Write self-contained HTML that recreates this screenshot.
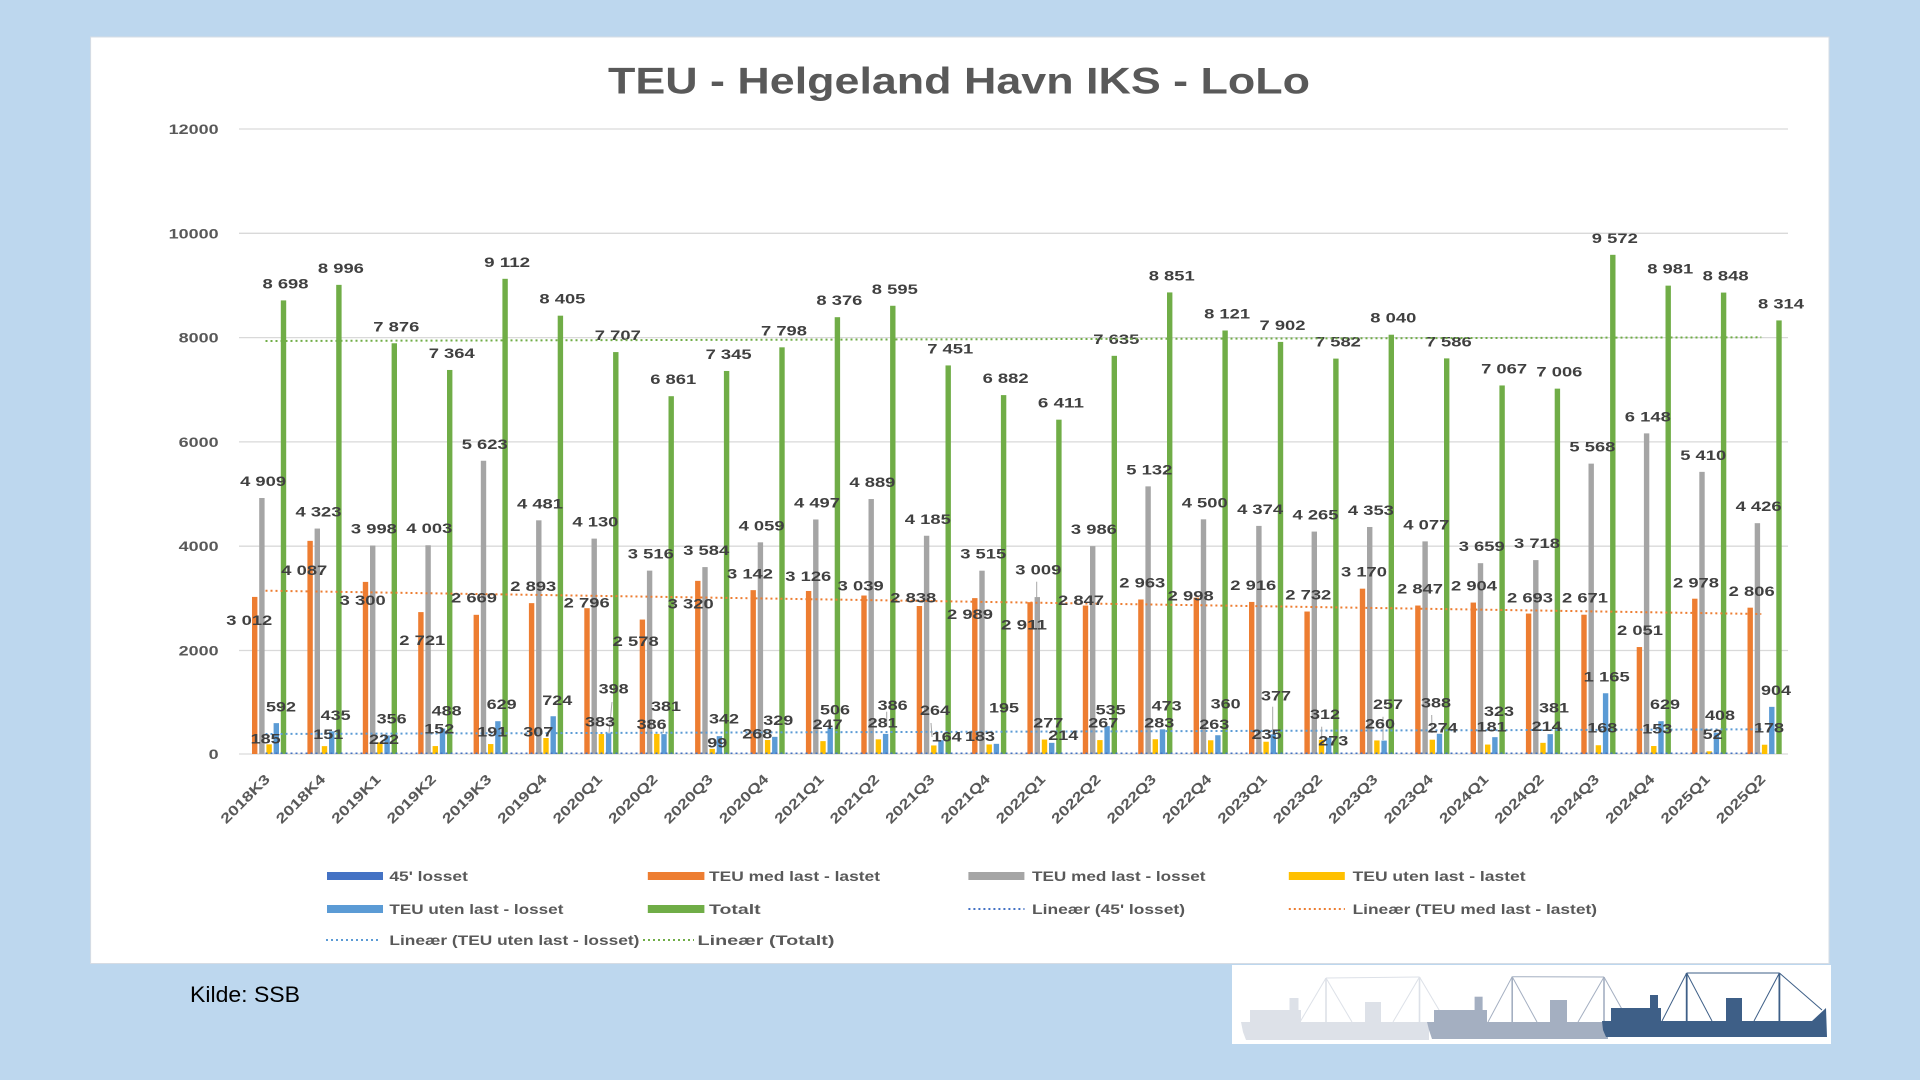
<!DOCTYPE html>
<html><head><meta charset="utf-8"><style>
html,body{margin:0;padding:0;background:#BDD7EE;}
svg{display:block;}
text{font-family:"Liberation Sans",sans-serif;}
.o{fill:#ED7D31}.s{fill:#A5A5A5}.y{fill:#FFC000}.b{fill:#5B9BD5}.g{fill:#70AD47}.d{fill:#4472C4}
.l{font-size:14px;font-weight:bold;fill:#404040;text-anchor:middle;}
.ax{font-size:14px;font-weight:bold;fill:#595959;text-anchor:end;}
.cat{font-size:14px;font-weight:bold;fill:#595959;text-anchor:end;}
.lg{font-size:14px;font-weight:bold;fill:#595959;}
.grid{stroke:#D9D9D9;stroke-width:1.3;}
.ld{stroke:#A6A6A6;stroke-width:1;}
</style></head><body>
<svg width="1920" height="1080" viewBox="0 0 1920 1080" xmlns="http://www.w3.org/2000/svg">
<rect x="0" y="0" width="1920" height="1080" fill="#BDD7EE"/>
<rect x="90.6" y="37" width="1738.4" height="926.5" fill="#FFFFFF" stroke="#D6DCE4" stroke-width="1"/>

<text x="608" y="93.7" font-size="37" font-weight="bold" fill="#595959" textLength="702" lengthAdjust="spacingAndGlyphs">TEU - Helgeland Havn IKS - LoLo</text>

<!-- gridlines -->
<line class="grid" x1="239" y1="129" x2="1788" y2="129"/>
<line class="grid" x1="239" y1="233.3" x2="1788" y2="233.3"/>
<line class="grid" x1="239" y1="337.6" x2="1788" y2="337.6"/>
<line class="grid" x1="239" y1="441.9" x2="1788" y2="441.9"/>
<line class="grid" x1="239" y1="546.2" x2="1788" y2="546.2"/>
<line class="grid" x1="239" y1="650.5" x2="1788" y2="650.5"/>
<line class="grid" x1="239" y1="754" x2="1788" y2="754"/>

<!-- y axis labels -->
<g class="ax" lengthAdjust="spacingAndGlyphs">
<text x="218.6" y="134" textLength="50" lengthAdjust="spacingAndGlyphs">12000</text>
<text x="218.6" y="238.3" textLength="50" lengthAdjust="spacingAndGlyphs">10000</text>
<text x="218.6" y="342.6" textLength="40" lengthAdjust="spacingAndGlyphs">8000</text>
<text x="218.6" y="446.9" textLength="40" lengthAdjust="spacingAndGlyphs">6000</text>
<text x="218.6" y="551.2" textLength="40" lengthAdjust="spacingAndGlyphs">4000</text>
<text x="218.6" y="655.5" textLength="40" lengthAdjust="spacingAndGlyphs">2000</text>
<text x="218.6" y="759" textLength="10" lengthAdjust="spacingAndGlyphs">0</text>
</g>

<!-- bars -->
<g>
<g transform="translate(283.5,0)"><rect class="o" x="-31.5" y="596.92" width="5.4" height="157.08"/><rect class="s" x="-24.3" y="498" width="5.4" height="256"/><rect class="y" x="-17.1" y="744.35" width="5.4" height="9.65"/><rect class="b" x="-9.9" y="723.13" width="5.4" height="30.87"/><rect class="g" x="-2.7" y="300.4" width="5.4" height="453.6"/>
<text class="l" x="2" y="288.4" textLength="46" lengthAdjust="spacingAndGlyphs">8 698</text><text class="l" x="-20.4" y="486" textLength="46" lengthAdjust="spacingAndGlyphs">4 909</text></g>
<g transform="translate(338.9,0)"><rect class="o" x="-31.5" y="540.86" width="5.4" height="213.14"/><rect class="s" x="-24.3" y="528.56" width="5.4" height="225.44"/><rect class="y" x="-17.1" y="746.13" width="5.4" height="7.87"/><rect class="b" x="-9.9" y="731.31" width="5.4" height="22.69"/><rect class="g" x="-2.7" y="284.86" width="5.4" height="469.14"/>
<text class="l" x="2" y="272.9" textLength="46" lengthAdjust="spacingAndGlyphs">8 996</text><text class="l" x="-20.4" y="516.6" textLength="46" lengthAdjust="spacingAndGlyphs">4 323</text></g>
<g transform="translate(394.3,0)"><rect class="o" x="-31.5" y="581.9" width="5.4" height="172.1"/><rect class="s" x="-24.3" y="545.5" width="5.4" height="208.5"/><rect class="y" x="-17.1" y="742.42" width="5.4" height="11.58"/><rect class="b" x="-9.9" y="735.43" width="5.4" height="18.57"/><rect class="g" x="-2.7" y="343.27" width="5.4" height="410.73"/>
<text class="l" x="2" y="331.3" textLength="46" lengthAdjust="spacingAndGlyphs">7 876</text><text class="l" x="-20.4" y="533.5" textLength="46" lengthAdjust="spacingAndGlyphs">3 998</text></g>
<g transform="translate(449.7,0)"><rect class="o" x="-31.5" y="612.1" width="5.4" height="141.9"/><rect class="s" x="-24.3" y="545.24" width="5.4" height="208.76"/><rect class="y" x="-17.1" y="746.07" width="5.4" height="7.93"/><rect class="b" x="-9.9" y="728.55" width="5.4" height="25.45"/><rect class="g" x="-2.7" y="369.97" width="5.4" height="384.03"/>
<text class="l" x="2" y="358" textLength="46" lengthAdjust="spacingAndGlyphs">7 364</text><text class="l" x="-20.4" y="533.2" textLength="46" lengthAdjust="spacingAndGlyphs">4 003</text></g>
<g transform="translate(505.1,0)"><rect class="o" x="-31.5" y="614.81" width="5.4" height="139.19"/><rect class="s" x="-24.3" y="460.76" width="5.4" height="293.24"/><rect class="y" x="-17.1" y="744.04" width="5.4" height="9.96"/><rect class="b" x="-9.9" y="721.2" width="5.4" height="32.8"/><rect class="g" x="-2.7" y="278.81" width="5.4" height="475.19"/>
<text class="l" x="2" y="266.8" textLength="46" lengthAdjust="spacingAndGlyphs">9 112</text><text class="l" x="-20.4" y="448.8" textLength="46" lengthAdjust="spacingAndGlyphs">5 623</text></g>
<g transform="translate(560.4,0)"><rect class="o" x="-31.5" y="603.13" width="5.4" height="150.87"/><rect class="s" x="-24.3" y="520.32" width="5.4" height="233.68"/><rect class="y" x="-17.1" y="737.99" width="5.4" height="16.01"/><rect class="b" x="-9.9" y="716.24" width="5.4" height="37.76"/><rect class="g" x="-2.7" y="315.68" width="5.4" height="438.32"/>
<text class="l" x="2" y="303.7" textLength="46" lengthAdjust="spacingAndGlyphs">8 405</text><text class="l" x="-20.4" y="508.3" textLength="46" lengthAdjust="spacingAndGlyphs">4 481</text></g>
<g transform="translate(615.8,0)"><rect class="o" x="-31.5" y="608.19" width="5.4" height="145.81"/><rect class="s" x="-24.3" y="538.62" width="5.4" height="215.38"/><rect class="y" x="-17.1" y="734.03" width="5.4" height="19.97"/><rect class="b" x="-9.9" y="733.24" width="5.4" height="20.76"/><rect class="g" x="-2.7" y="352.08" width="5.4" height="401.92"/>
<text class="l" x="2" y="340.1" textLength="46" lengthAdjust="spacingAndGlyphs">7 707</text><text class="l" x="-20.4" y="526.6" textLength="46" lengthAdjust="spacingAndGlyphs">4 130</text></g>
<g transform="translate(671.2,0)"><rect class="o" x="-31.5" y="619.56" width="5.4" height="134.44"/><rect class="s" x="-24.3" y="570.64" width="5.4" height="183.36"/><rect class="y" x="-17.1" y="733.87" width="5.4" height="20.13"/><rect class="b" x="-9.9" y="734.13" width="5.4" height="19.87"/><rect class="g" x="-2.7" y="396.2" width="5.4" height="357.8"/>
<text class="l" x="2" y="384.2" textLength="46" lengthAdjust="spacingAndGlyphs">6 861</text><text class="l" x="-20.4" y="558.6" textLength="46" lengthAdjust="spacingAndGlyphs">3 516</text></g>
<g transform="translate(726.6,0)"><rect class="o" x="-31.5" y="580.86" width="5.4" height="173.14"/><rect class="s" x="-24.3" y="567.09" width="5.4" height="186.91"/><rect class="y" x="-17.1" y="748.84" width="5.4" height="5.16"/><rect class="b" x="-9.9" y="736.16" width="5.4" height="17.84"/><rect class="g" x="-2.7" y="370.96" width="5.4" height="383.04"/>
<text class="l" x="2" y="359" textLength="46" lengthAdjust="spacingAndGlyphs">7 345</text><text class="l" x="-20.4" y="555.1" textLength="46" lengthAdjust="spacingAndGlyphs">3 584</text></g>
<g transform="translate(782,0)"><rect class="o" x="-31.5" y="590.14" width="5.4" height="163.86"/><rect class="s" x="-24.3" y="542.32" width="5.4" height="211.68"/><rect class="y" x="-17.1" y="740.02" width="5.4" height="13.98"/><rect class="b" x="-9.9" y="736.84" width="5.4" height="17.16"/><rect class="g" x="-2.7" y="347.33" width="5.4" height="406.67"/>
<text class="l" x="2" y="335.3" textLength="46" lengthAdjust="spacingAndGlyphs">7 798</text><text class="l" x="-20.4" y="530.3" textLength="46" lengthAdjust="spacingAndGlyphs">4 059</text></g>
<g transform="translate(837.4,0)"><rect class="o" x="-31.5" y="590.98" width="5.4" height="163.02"/><rect class="s" x="-24.3" y="519.48" width="5.4" height="234.52"/><rect class="y" x="-17.1" y="741.12" width="5.4" height="12.88"/><rect class="b" x="-9.9" y="727.61" width="5.4" height="26.39"/><rect class="g" x="-2.7" y="317.19" width="5.4" height="436.81"/>
<text class="l" x="2" y="305.2" textLength="46" lengthAdjust="spacingAndGlyphs">8 376</text><text class="l" x="-20.4" y="507.5" textLength="46" lengthAdjust="spacingAndGlyphs">4 497</text></g>
<g transform="translate(892.8,0)"><rect class="o" x="-31.5" y="595.52" width="5.4" height="158.48"/><rect class="s" x="-24.3" y="499.04" width="5.4" height="254.96"/><rect class="y" x="-17.1" y="739.35" width="5.4" height="14.65"/><rect class="b" x="-9.9" y="733.87" width="5.4" height="20.13"/><rect class="g" x="-2.7" y="305.77" width="5.4" height="448.23"/>
<text class="l" x="2" y="293.8" textLength="46" lengthAdjust="spacingAndGlyphs">8 595</text><text class="l" x="-20.4" y="487" textLength="46" lengthAdjust="spacingAndGlyphs">4 889</text></g>
<g transform="translate(948.2,0)"><rect class="o" x="-31.5" y="606" width="5.4" height="148"/><rect class="s" x="-24.3" y="535.75" width="5.4" height="218.25"/><rect class="y" x="-17.1" y="745.45" width="5.4" height="8.55"/><rect class="b" x="-9.9" y="740.23" width="5.4" height="13.77"/><rect class="g" x="-2.7" y="365.43" width="5.4" height="388.57"/>
<text class="l" x="2" y="353.4" textLength="46" lengthAdjust="spacingAndGlyphs">7 451</text><text class="l" x="-20.4" y="523.8" textLength="46" lengthAdjust="spacingAndGlyphs">4 185</text></g>
<g transform="translate(1003.6,0)"><rect class="o" x="-31.5" y="598.12" width="5.4" height="155.88"/><rect class="s" x="-24.3" y="570.69" width="5.4" height="183.31"/><rect class="y" x="-17.1" y="744.46" width="5.4" height="9.54"/><rect class="b" x="-9.9" y="743.83" width="5.4" height="10.17"/><rect class="g" x="-2.7" y="395.1" width="5.4" height="358.9"/>
<text class="l" x="2" y="383.1" textLength="46" lengthAdjust="spacingAndGlyphs">6 882</text><text class="l" x="-20.4" y="558.7" textLength="46" lengthAdjust="spacingAndGlyphs">3 515</text></g>
<g transform="translate(1058.9,0)"><rect class="o" x="-31.5" y="602.19" width="5.4" height="151.81"/><rect class="s" x="-24.3" y="597.08" width="5.4" height="156.92"/><rect class="y" x="-17.1" y="739.55" width="5.4" height="14.45"/><rect class="b" x="-9.9" y="742.84" width="5.4" height="11.16"/><rect class="g" x="-2.7" y="419.67" width="5.4" height="334.33"/>
<text class="l" x="2" y="407.7" textLength="46" lengthAdjust="spacingAndGlyphs">6 411</text><text class="l" x="-20.6" y="574.3" textLength="46" lengthAdjust="spacingAndGlyphs">3 009</text></g>
<g transform="translate(1114.3,0)"><rect class="o" x="-31.5" y="605.53" width="5.4" height="148.47"/><rect class="s" x="-24.3" y="546.13" width="5.4" height="207.87"/><rect class="y" x="-17.1" y="740.08" width="5.4" height="13.92"/><rect class="b" x="-9.9" y="726.1" width="5.4" height="27.9"/><rect class="g" x="-2.7" y="355.83" width="5.4" height="398.17"/>
<text class="l" x="2" y="343.8" textLength="46" lengthAdjust="spacingAndGlyphs">7 635</text><text class="l" x="-20.4" y="534.1" textLength="46" lengthAdjust="spacingAndGlyphs">3 986</text></g>
<g transform="translate(1169.7,0)"><rect class="o" x="-31.5" y="599.48" width="5.4" height="154.52"/><rect class="s" x="-24.3" y="486.37" width="5.4" height="267.63"/><rect class="y" x="-17.1" y="739.24" width="5.4" height="14.76"/><rect class="b" x="-9.9" y="729.33" width="5.4" height="24.67"/><rect class="g" x="-2.7" y="292.42" width="5.4" height="461.58"/>
<text class="l" x="2" y="280.4" textLength="46" lengthAdjust="spacingAndGlyphs">8 851</text><text class="l" x="-20.4" y="474.4" textLength="46" lengthAdjust="spacingAndGlyphs">5 132</text></g>
<g transform="translate(1225.1,0)"><rect class="o" x="-31.5" y="597.65" width="5.4" height="156.35"/><rect class="s" x="-24.3" y="519.32" width="5.4" height="234.68"/><rect class="y" x="-17.1" y="740.28" width="5.4" height="13.72"/><rect class="b" x="-9.9" y="735.23" width="5.4" height="18.77"/><rect class="g" x="-2.7" y="330.49" width="5.4" height="423.51"/>
<text class="l" x="2" y="318.5" textLength="46" lengthAdjust="spacingAndGlyphs">8 121</text><text class="l" x="-20.4" y="507.3" textLength="46" lengthAdjust="spacingAndGlyphs">4 500</text></g>
<g transform="translate(1280.5,0)"><rect class="o" x="-31.5" y="601.93" width="5.4" height="152.07"/><rect class="s" x="-24.3" y="525.9" width="5.4" height="228.1"/><rect class="y" x="-17.1" y="741.74" width="5.4" height="12.26"/><rect class="b" x="-9.9" y="734.34" width="5.4" height="19.66"/><rect class="g" x="-2.7" y="341.91" width="5.4" height="412.09"/>
<text class="l" x="2" y="329.9" textLength="46" lengthAdjust="spacingAndGlyphs">7 902</text><text class="l" x="-20.4" y="513.9" textLength="46" lengthAdjust="spacingAndGlyphs">4 374</text></g>
<g transform="translate(1335.9,0)"><rect class="o" x="-31.5" y="611.53" width="5.4" height="142.47"/><rect class="s" x="-24.3" y="531.58" width="5.4" height="222.42"/><rect class="y" x="-17.1" y="739.76" width="5.4" height="14.24"/><rect class="b" x="-9.9" y="737.73" width="5.4" height="16.27"/><rect class="g" x="-2.7" y="358.6" width="5.4" height="395.4"/>
<text class="l" x="2" y="346.6" textLength="46" lengthAdjust="spacingAndGlyphs">7 582</text><text class="l" x="-20.4" y="519.6" textLength="46" lengthAdjust="spacingAndGlyphs">4 265</text></g>
<g transform="translate(1391.3,0)"><rect class="o" x="-31.5" y="588.68" width="5.4" height="165.32"/><rect class="s" x="-24.3" y="526.99" width="5.4" height="227.01"/><rect class="y" x="-17.1" y="740.44" width="5.4" height="13.56"/><rect class="b" x="-9.9" y="740.6" width="5.4" height="13.4"/><rect class="g" x="-2.7" y="334.71" width="5.4" height="419.29"/>
<text class="l" x="2" y="322.7" textLength="46" lengthAdjust="spacingAndGlyphs">8 040</text><text class="l" x="-20.4" y="515" textLength="46" lengthAdjust="spacingAndGlyphs">4 353</text></g>
<g transform="translate(1446.7,0)"><rect class="o" x="-31.5" y="605.53" width="5.4" height="148.47"/><rect class="s" x="-24.3" y="541.38" width="5.4" height="212.62"/><rect class="y" x="-17.1" y="739.71" width="5.4" height="14.29"/><rect class="b" x="-9.9" y="733.77" width="5.4" height="20.23"/><rect class="g" x="-2.7" y="358.39" width="5.4" height="395.61"/>
<text class="l" x="2" y="346.4" textLength="46" lengthAdjust="spacingAndGlyphs">7 586</text><text class="l" x="-20.4" y="529.4" textLength="46" lengthAdjust="spacingAndGlyphs">4 077</text></g>
<g transform="translate(1502.1,0)"><rect class="o" x="-31.5" y="602.56" width="5.4" height="151.44"/><rect class="s" x="-24.3" y="563.18" width="5.4" height="190.82"/><rect class="y" x="-17.1" y="744.56" width="5.4" height="9.44"/><rect class="b" x="-9.9" y="737.16" width="5.4" height="16.84"/><rect class="g" x="-2.7" y="385.46" width="5.4" height="368.54"/>
<text class="l" x="2" y="373.5" textLength="46" lengthAdjust="spacingAndGlyphs">7 067</text><text class="l" x="-20.4" y="551.2" textLength="46" lengthAdjust="spacingAndGlyphs">3 659</text></g>
<g transform="translate(1557.4,0)"><rect class="o" x="-31.5" y="613.56" width="5.4" height="140.44"/><rect class="s" x="-24.3" y="560.11" width="5.4" height="193.89"/><rect class="y" x="-17.1" y="742.84" width="5.4" height="11.16"/><rect class="b" x="-9.9" y="734.13" width="5.4" height="19.87"/><rect class="g" x="-2.7" y="388.64" width="5.4" height="365.36"/>
<text class="l" x="2" y="376.6" textLength="46" lengthAdjust="spacingAndGlyphs">7 006</text><text class="l" x="-20.4" y="548.1" textLength="46" lengthAdjust="spacingAndGlyphs">3 718</text></g>
<g transform="translate(1612.8,0)"><rect class="o" x="-31.5" y="614.71" width="5.4" height="139.29"/><rect class="s" x="-24.3" y="463.63" width="5.4" height="290.37"/><rect class="y" x="-17.1" y="745.24" width="5.4" height="8.76"/><rect class="b" x="-9.9" y="693.25" width="5.4" height="60.75"/><rect class="g" x="-2.7" y="254.82" width="5.4" height="499.18"/>
<text class="l" x="2" y="242.8" textLength="46" lengthAdjust="spacingAndGlyphs">9 572</text><text class="l" x="-20.4" y="451.6" textLength="46" lengthAdjust="spacingAndGlyphs">5 568</text></g>
<g transform="translate(1668.2,0)"><rect class="o" x="-31.5" y="647.04" width="5.4" height="106.96"/><rect class="s" x="-24.3" y="433.38" width="5.4" height="320.62"/><rect class="y" x="-17.1" y="746.02" width="5.4" height="7.98"/><rect class="b" x="-9.9" y="721.2" width="5.4" height="32.8"/><rect class="g" x="-2.7" y="285.64" width="5.4" height="468.36"/>
<text class="l" x="2" y="273.6" textLength="46" lengthAdjust="spacingAndGlyphs">8 981</text><text class="l" x="-20.4" y="421.4" textLength="46" lengthAdjust="spacingAndGlyphs">6 148</text></g>
<g transform="translate(1723.6,0)"><rect class="o" x="-31.5" y="598.7" width="5.4" height="155.3"/><rect class="s" x="-24.3" y="471.87" width="5.4" height="282.13"/><rect class="y" x="-17.1" y="751.29" width="5.4" height="2.71"/><rect class="b" x="-9.9" y="732.72" width="5.4" height="21.28"/><rect class="g" x="-2.7" y="292.58" width="5.4" height="461.42"/>
<text class="l" x="2" y="280.6" textLength="46" lengthAdjust="spacingAndGlyphs">8 848</text><text class="l" x="-20.4" y="459.9" textLength="46" lengthAdjust="spacingAndGlyphs">5 410</text></g>
<g transform="translate(1779,0)"><rect class="o" x="-31.5" y="607.67" width="5.4" height="146.33"/><rect class="s" x="-24.3" y="523.18" width="5.4" height="230.82"/><rect class="y" x="-17.1" y="744.72" width="5.4" height="9.28"/><rect class="b" x="-9.9" y="706.86" width="5.4" height="47.14"/><rect class="g" x="-2.7" y="320.42" width="5.4" height="433.58"/>
<text class="l" x="2" y="308.4" textLength="46" lengthAdjust="spacingAndGlyphs">8 314</text><text class="l" x="-20.4" y="511.2" textLength="46" lengthAdjust="spacingAndGlyphs">4 426</text></g>
</g>

<!-- trend lines -->
<g fill="none" stroke-width="2" stroke-dasharray="2 3">
<line x1="265.5" y1="753.3" x2="1761.3" y2="753.3" stroke="#4472C4" stroke-width="1.5"/>
<line x1="265.5" y1="590.7" x2="1761.3" y2="614" stroke="#ED7D31"/>
<line x1="265.5" y1="734" x2="1761.3" y2="729.3" stroke="#5B9BD5"/>
<line x1="265.5" y1="341" x2="1761.3" y2="337.3" stroke="#70AD47"/>
</g>

<!-- leader lines -->
<g class="ld">
<line x1="612" y1="702" x2="609" y2="733"/>
<line x1="1036.7" y1="581.7" x2="1036.7" y2="598"/>
<line x1="1272.7" y1="706.7" x2="1272.7" y2="730"/>
<line x1="1321.7" y1="726.7" x2="1321.7" y2="740"/>
<line x1="1383" y1="716.7" x2="1383" y2="740"/>
<line x1="931" y1="723" x2="932" y2="737"/>
<line x1="1431.7" y1="715" x2="1432" y2="733"/>
<line x1="663.3" y1="725" x2="663.3" y2="733"/>
<line x1="886.7" y1="711.7" x2="886.7" y2="726.7"/>
</g>

<!-- orange labels -->
<g>
<text class="l" x="249.3" y="625" textLength="46" lengthAdjust="spacingAndGlyphs">3 012</text>
<text class="l" x="304.3" y="575" textLength="46" lengthAdjust="spacingAndGlyphs">4 087</text>
<text class="l" x="362.7" y="605" textLength="46" lengthAdjust="spacingAndGlyphs">3 300</text>
<text class="l" x="422.3" y="645" textLength="46" lengthAdjust="spacingAndGlyphs">2 721</text>
<text class="l" x="474" y="602.7" textLength="46" lengthAdjust="spacingAndGlyphs">2 669</text>
<text class="l" x="533.3" y="591" textLength="46" lengthAdjust="spacingAndGlyphs">2 893</text>
<text class="l" x="586.7" y="607.3" textLength="46" lengthAdjust="spacingAndGlyphs">2 796</text>
<text class="l" x="635.7" y="646" textLength="46" lengthAdjust="spacingAndGlyphs">2 578</text>
<text class="l" x="690.7" y="608.3" textLength="46" lengthAdjust="spacingAndGlyphs">3 320</text>
<text class="l" x="750" y="578.3" textLength="46" lengthAdjust="spacingAndGlyphs">3 142</text>
<text class="l" x="808.3" y="581" textLength="46" lengthAdjust="spacingAndGlyphs">3 126</text>
<text class="l" x="860.7" y="590.7" textLength="46" lengthAdjust="spacingAndGlyphs">3 039</text>
<text class="l" x="913.3" y="602.3" textLength="46" lengthAdjust="spacingAndGlyphs">2 838</text>
<text class="l" x="970" y="619" textLength="46" lengthAdjust="spacingAndGlyphs">2 989</text>
<text class="l" x="1024" y="629.3" textLength="46" lengthAdjust="spacingAndGlyphs">2 911</text>
<text class="l" x="1081" y="605" textLength="46" lengthAdjust="spacingAndGlyphs">2 847</text>
<text class="l" x="1142.3" y="587.7" textLength="46" lengthAdjust="spacingAndGlyphs">2 963</text>
<text class="l" x="1190.7" y="600.7" textLength="46" lengthAdjust="spacingAndGlyphs">2 998</text>
<text class="l" x="1253.3" y="590" textLength="46" lengthAdjust="spacingAndGlyphs">2 916</text>
<text class="l" x="1308.3" y="599.3" textLength="46" lengthAdjust="spacingAndGlyphs">2 732</text>
<text class="l" x="1364" y="576.7" textLength="46" lengthAdjust="spacingAndGlyphs">3 170</text>
<text class="l" x="1420" y="593.3" textLength="46" lengthAdjust="spacingAndGlyphs">2 847</text>
<text class="l" x="1474" y="590.7" textLength="46" lengthAdjust="spacingAndGlyphs">2 904</text>
<text class="l" x="1530" y="602.3" textLength="46" lengthAdjust="spacingAndGlyphs">2 693</text>
<text class="l" x="1585" y="602.3" textLength="46" lengthAdjust="spacingAndGlyphs">2 671</text>
<text class="l" x="1640" y="635" textLength="46" lengthAdjust="spacingAndGlyphs">2 051</text>
<text class="l" x="1696" y="587.3" textLength="46" lengthAdjust="spacingAndGlyphs">2 978</text>
<text class="l" x="1751.7" y="596" textLength="46" lengthAdjust="spacingAndGlyphs">2 806</text>
</g>

<!-- yellow labels -->
<g>
<text class="l" x="265.7" y="743.3" textLength="30" lengthAdjust="spacingAndGlyphs">185</text>
<text class="l" x="328.3" y="739" textLength="30" lengthAdjust="spacingAndGlyphs">151</text>
<text class="l" x="384" y="744" textLength="30" lengthAdjust="spacingAndGlyphs">222</text>
<text class="l" x="439.3" y="733.3" textLength="30" lengthAdjust="spacingAndGlyphs">152</text>
<text class="l" x="492.3" y="736.7" textLength="30" lengthAdjust="spacingAndGlyphs">191</text>
<text class="l" x="538.3" y="736.7" textLength="30" lengthAdjust="spacingAndGlyphs">307</text>
<text class="l" x="600" y="726.7" textLength="30" lengthAdjust="spacingAndGlyphs">383</text>
<text class="l" x="651.7" y="729" textLength="30" lengthAdjust="spacingAndGlyphs">386</text>
<text class="l" x="717.3" y="747.7" textLength="20" lengthAdjust="spacingAndGlyphs">99</text>
<text class="l" x="757.3" y="738.3" textLength="30" lengthAdjust="spacingAndGlyphs">268</text>
<text class="l" x="827.7" y="729" textLength="30" lengthAdjust="spacingAndGlyphs">247</text>
<text class="l" x="882.7" y="727.7" textLength="30" lengthAdjust="spacingAndGlyphs">281</text>
<text class="l" x="946.7" y="741.7" textLength="30" lengthAdjust="spacingAndGlyphs">164</text>
<text class="l" x="980" y="741" textLength="30" lengthAdjust="spacingAndGlyphs">183</text>
<text class="l" x="1048.3" y="727.7" textLength="30" lengthAdjust="spacingAndGlyphs">277</text>
<text class="l" x="1103.3" y="727.7" textLength="30" lengthAdjust="spacingAndGlyphs">267</text>
<text class="l" x="1159.3" y="727.3" textLength="30" lengthAdjust="spacingAndGlyphs">283</text>
<text class="l" x="1214.3" y="729" textLength="30" lengthAdjust="spacingAndGlyphs">263</text>
<text class="l" x="1266.7" y="739" textLength="30" lengthAdjust="spacingAndGlyphs">235</text>
<text class="l" x="1333.3" y="745.7" textLength="30" lengthAdjust="spacingAndGlyphs">273</text>
<text class="l" x="1380" y="728.3" textLength="30" lengthAdjust="spacingAndGlyphs">260</text>
<text class="l" x="1442.7" y="732.3" textLength="30" lengthAdjust="spacingAndGlyphs">274</text>
<text class="l" x="1491.7" y="731.7" textLength="30" lengthAdjust="spacingAndGlyphs">181</text>
<text class="l" x="1546.7" y="731" textLength="30" lengthAdjust="spacingAndGlyphs">214</text>
<text class="l" x="1602.3" y="732.3" textLength="30" lengthAdjust="spacingAndGlyphs">168</text>
<text class="l" x="1657.3" y="733.3" textLength="30" lengthAdjust="spacingAndGlyphs">153</text>
<text class="l" x="1712.7" y="739" textLength="20" lengthAdjust="spacingAndGlyphs">52</text>
<text class="l" x="1769" y="732.3" textLength="30" lengthAdjust="spacingAndGlyphs">178</text>
</g>

<!-- light blue labels -->
<g>
<text class="l" x="281" y="711.7" textLength="30" lengthAdjust="spacingAndGlyphs">592</text>
<text class="l" x="335.7" y="720" textLength="30" lengthAdjust="spacingAndGlyphs">435</text>
<text class="l" x="391.7" y="723.3" textLength="30" lengthAdjust="spacingAndGlyphs">356</text>
<text class="l" x="446.7" y="715.7" textLength="30" lengthAdjust="spacingAndGlyphs">488</text>
<text class="l" x="501.7" y="709" textLength="30" lengthAdjust="spacingAndGlyphs">629</text>
<text class="l" x="557.3" y="705" textLength="30" lengthAdjust="spacingAndGlyphs">724</text>
<text class="l" x="613.7" y="693.3" textLength="30" lengthAdjust="spacingAndGlyphs">398</text>
<text class="l" x="666" y="711" textLength="30" lengthAdjust="spacingAndGlyphs">381</text>
<text class="l" x="724" y="723.3" textLength="30" lengthAdjust="spacingAndGlyphs">342</text>
<text class="l" x="778.3" y="725" textLength="30" lengthAdjust="spacingAndGlyphs">329</text>
<text class="l" x="835" y="714.3" textLength="30" lengthAdjust="spacingAndGlyphs">506</text>
<text class="l" x="892.7" y="710" textLength="30" lengthAdjust="spacingAndGlyphs">386</text>
<text class="l" x="935" y="715" textLength="30" lengthAdjust="spacingAndGlyphs">264</text>
<text class="l" x="1004" y="712.7" textLength="30" lengthAdjust="spacingAndGlyphs">195</text>
<text class="l" x="1063.3" y="740" textLength="30" lengthAdjust="spacingAndGlyphs">214</text>
<text class="l" x="1110.7" y="714.3" textLength="30" lengthAdjust="spacingAndGlyphs">535</text>
<text class="l" x="1166.7" y="710.7" textLength="30" lengthAdjust="spacingAndGlyphs">473</text>
<text class="l" x="1225.7" y="708.3" textLength="30" lengthAdjust="spacingAndGlyphs">360</text>
<text class="l" x="1276" y="700.7" textLength="30" lengthAdjust="spacingAndGlyphs">377</text>
<text class="l" x="1325" y="719" textLength="30" lengthAdjust="spacingAndGlyphs">312</text>
<text class="l" x="1388" y="709" textLength="30" lengthAdjust="spacingAndGlyphs">257</text>
<text class="l" x="1436" y="707.3" textLength="30" lengthAdjust="spacingAndGlyphs">388</text>
<text class="l" x="1499" y="716" textLength="30" lengthAdjust="spacingAndGlyphs">323</text>
<text class="l" x="1554" y="712.7" textLength="30" lengthAdjust="spacingAndGlyphs">381</text>
<text class="l" x="1606.7" y="681.7" textLength="46" lengthAdjust="spacingAndGlyphs">1 165</text>
<text class="l" x="1665" y="709" textLength="30" lengthAdjust="spacingAndGlyphs">629</text>
<text class="l" x="1720" y="720" textLength="30" lengthAdjust="spacingAndGlyphs">408</text>
<text class="l" x="1776" y="695" textLength="30" lengthAdjust="spacingAndGlyphs">904</text>
</g>

<!-- category labels -->
<g class="cat">
<text transform="translate(270.8,780) rotate(-45)" textLength="63" lengthAdjust="spacingAndGlyphs">2018K3</text>
<text transform="translate(326.2,780) rotate(-45)" textLength="63" lengthAdjust="spacingAndGlyphs">2018K4</text>
<text transform="translate(381.6,780) rotate(-45)" textLength="63" lengthAdjust="spacingAndGlyphs">2019K1</text>
<text transform="translate(437,780) rotate(-45)" textLength="63" lengthAdjust="spacingAndGlyphs">2019K2</text>
<text transform="translate(492.4,780) rotate(-45)" textLength="63" lengthAdjust="spacingAndGlyphs">2019K3</text>
<text transform="translate(547.7,780) rotate(-45)" textLength="63" lengthAdjust="spacingAndGlyphs">2019Q4</text>
<text transform="translate(603.1,780) rotate(-45)" textLength="63" lengthAdjust="spacingAndGlyphs">2020Q1</text>
<text transform="translate(658.5,780) rotate(-45)" textLength="63" lengthAdjust="spacingAndGlyphs">2020Q2</text>
<text transform="translate(713.9,780) rotate(-45)" textLength="63" lengthAdjust="spacingAndGlyphs">2020Q3</text>
<text transform="translate(769.3,780) rotate(-45)" textLength="63" lengthAdjust="spacingAndGlyphs">2020Q4</text>
<text transform="translate(824.7,780) rotate(-45)" textLength="63" lengthAdjust="spacingAndGlyphs">2021Q1</text>
<text transform="translate(880.1,780) rotate(-45)" textLength="63" lengthAdjust="spacingAndGlyphs">2021Q2</text>
<text transform="translate(935.5,780) rotate(-45)" textLength="63" lengthAdjust="spacingAndGlyphs">2021Q3</text>
<text transform="translate(990.9,780) rotate(-45)" textLength="63" lengthAdjust="spacingAndGlyphs">2021Q4</text>
<text transform="translate(1046.2,780) rotate(-45)" textLength="63" lengthAdjust="spacingAndGlyphs">2022Q1</text>
<text transform="translate(1101.6,780) rotate(-45)" textLength="63" lengthAdjust="spacingAndGlyphs">2022Q2</text>
<text transform="translate(1157,780) rotate(-45)" textLength="63" lengthAdjust="spacingAndGlyphs">2022Q3</text>
<text transform="translate(1212.4,780) rotate(-45)" textLength="63" lengthAdjust="spacingAndGlyphs">2022Q4</text>
<text transform="translate(1267.8,780) rotate(-45)" textLength="63" lengthAdjust="spacingAndGlyphs">2023Q1</text>
<text transform="translate(1323.2,780) rotate(-45)" textLength="63" lengthAdjust="spacingAndGlyphs">2023Q2</text>
<text transform="translate(1378.6,780) rotate(-45)" textLength="63" lengthAdjust="spacingAndGlyphs">2023Q3</text>
<text transform="translate(1434,780) rotate(-45)" textLength="63" lengthAdjust="spacingAndGlyphs">2023Q4</text>
<text transform="translate(1489.4,780) rotate(-45)" textLength="63" lengthAdjust="spacingAndGlyphs">2024Q1</text>
<text transform="translate(1544.7,780) rotate(-45)" textLength="63" lengthAdjust="spacingAndGlyphs">2024Q2</text>
<text transform="translate(1600.1,780) rotate(-45)" textLength="63" lengthAdjust="spacingAndGlyphs">2024Q3</text>
<text transform="translate(1655.5,780) rotate(-45)" textLength="63" lengthAdjust="spacingAndGlyphs">2024Q4</text>
<text transform="translate(1710.9,780) rotate(-45)" textLength="63" lengthAdjust="spacingAndGlyphs">2025Q1</text>
<text transform="translate(1766.3,780) rotate(-45)" textLength="63" lengthAdjust="spacingAndGlyphs">2025Q2</text>
</g>

<!-- legend -->
<g>
<rect class="d" x="327" y="872" width="56" height="8"/>
<text class="lg" x="389.4" y="881" textLength="78.5" lengthAdjust="spacingAndGlyphs">45' losset</text>
<rect class="o" x="647.8" y="872" width="56.6" height="8"/>
<text class="lg" x="709" y="881" textLength="171" lengthAdjust="spacingAndGlyphs">TEU med last - lastet</text>
<rect class="s" x="968.4" y="872" width="56" height="8"/>
<text class="lg" x="1032" y="881" textLength="173.5" lengthAdjust="spacingAndGlyphs">TEU med last - losset</text>
<rect class="y" x="1288.8" y="872" width="56" height="8"/>
<text class="lg" x="1352.6" y="881" textLength="173" lengthAdjust="spacingAndGlyphs">TEU uten last - lastet</text>

<rect class="b" x="327" y="905" width="56" height="8"/>
<text class="lg" x="389.4" y="914" textLength="174" lengthAdjust="spacingAndGlyphs">TEU uten last - losset</text>
<rect class="g" x="647.8" y="905" width="56.6" height="8"/>
<text class="lg" x="709" y="914" textLength="51.7" lengthAdjust="spacingAndGlyphs">Totalt</text>
<line x1="968.4" y1="909" x2="1024.5" y2="909" stroke="#4472C4" stroke-width="2" stroke-dasharray="2 3"/>
<text class="lg" x="1032" y="914" textLength="153" lengthAdjust="spacingAndGlyphs">Lineær (45' losset)</text>
<line x1="1288.8" y1="909" x2="1344.9" y2="909" stroke="#ED7D31" stroke-width="2" stroke-dasharray="2 3"/>
<text class="lg" x="1352.6" y="914" textLength="244.4" lengthAdjust="spacingAndGlyphs">Lineær (TEU med last - lastet)</text>

<line x1="326" y1="940" x2="381" y2="940" stroke="#5B9BD5" stroke-width="2" stroke-dasharray="2 3"/>
<text class="lg" x="389.4" y="945" textLength="250" lengthAdjust="spacingAndGlyphs">Lineær (TEU uten last - losset)</text>
<line x1="643" y1="940" x2="694" y2="940" stroke="#70AD47" stroke-width="2" stroke-dasharray="2 3"/>
<text class="lg" x="697.5" y="945" textLength="137" lengthAdjust="spacingAndGlyphs">Lineær (Totalt)</text>
</g>

<!-- footer -->
<text x="190" y="1002" font-size="22" fill="#000000" textLength="110" lengthAdjust="spacingAndGlyphs">Kilde: SSB</text>

<!-- ship image -->
<rect x="1232" y="965" width="599" height="79" fill="#FFFFFF"/>
<g fill="#DDE1E8" stroke="#DDE1E8">
<polygon stroke="none" points="1241,1022 1429,1022 1429,1040 1246,1040 1243,1032"/>
<rect stroke="none" x="1250" y="1010" width="51" height="13"/>
<rect stroke="none" x="1289.5" y="998" width="9" height="13"/>
<rect stroke="none" x="1365" y="1002" width="16" height="21"/>
<g fill="none" stroke-width="1">
<line x1="1326" y1="978" x2="1326" y2="1023" stroke-width="1.6"/>
<line x1="1419.5" y1="977" x2="1419.5" y2="1023" stroke-width="1.6"/>
<line x1="1326" y1="978" x2="1419.5" y2="977"/>
<line x1="1326" y1="978" x2="1300" y2="1022"/>
<line x1="1326" y1="978" x2="1352" y2="1022"/>
<line x1="1419.5" y1="977" x2="1393" y2="1022"/>
<line x1="1419.5" y1="977" x2="1445" y2="1020"/>
</g>
</g>
<g fill="#A4AFC1" stroke="#A4AFC1">
<polygon stroke="none" points="1427,1022 1608,1022 1608,1039 1432,1039 1429,1030"/>
<rect stroke="none" x="1434" y="1010" width="53" height="13"/>
<rect stroke="none" x="1474.6" y="996.7" width="8" height="13.3"/>
<rect stroke="none" x="1550" y="1000" width="17" height="23"/>
<g fill="none" stroke-width="1">
<line x1="1512.2" y1="976.7" x2="1512.2" y2="1023" stroke-width="1.6"/>
<line x1="1604" y1="977" x2="1604" y2="1023" stroke-width="1.6"/>
<line x1="1512.2" y1="976.7" x2="1604" y2="977"/>
<line x1="1512.2" y1="976.7" x2="1488" y2="1022"/>
<line x1="1512.2" y1="976.7" x2="1537" y2="1022"/>
<line x1="1604" y1="977" x2="1578" y2="1022"/>
<line x1="1604" y1="977" x2="1628" y2="1020"/>
</g>
</g>
<g fill="#3E5F87" stroke="#3E5F87">
<polygon stroke="none" points="1602,1021 1812,1021 1826,1008 1827,1037 1606,1037 1603,1030"/>
<rect stroke="none" x="1611" y="1008" width="50" height="14"/>
<rect stroke="none" x="1650" y="995" width="8" height="14"/>
<rect stroke="none" x="1726" y="998" width="16" height="24"/>
<g fill="none" stroke-width="1">
<line x1="1686.7" y1="973" x2="1686.7" y2="1022" stroke-width="1.8"/>
<line x1="1779.4" y1="973" x2="1779.4" y2="1022" stroke-width="1.8"/>
<line x1="1686.7" y1="973" x2="1779.4" y2="973"/>
<line x1="1686.7" y1="973" x2="1662" y2="1021"/>
<line x1="1686.7" y1="973" x2="1712" y2="1021"/>
<line x1="1779.4" y1="973" x2="1754" y2="1021"/>
<line x1="1779.4" y1="973" x2="1822" y2="1010"/>
</g>
</g>
</svg>
</body></html>
